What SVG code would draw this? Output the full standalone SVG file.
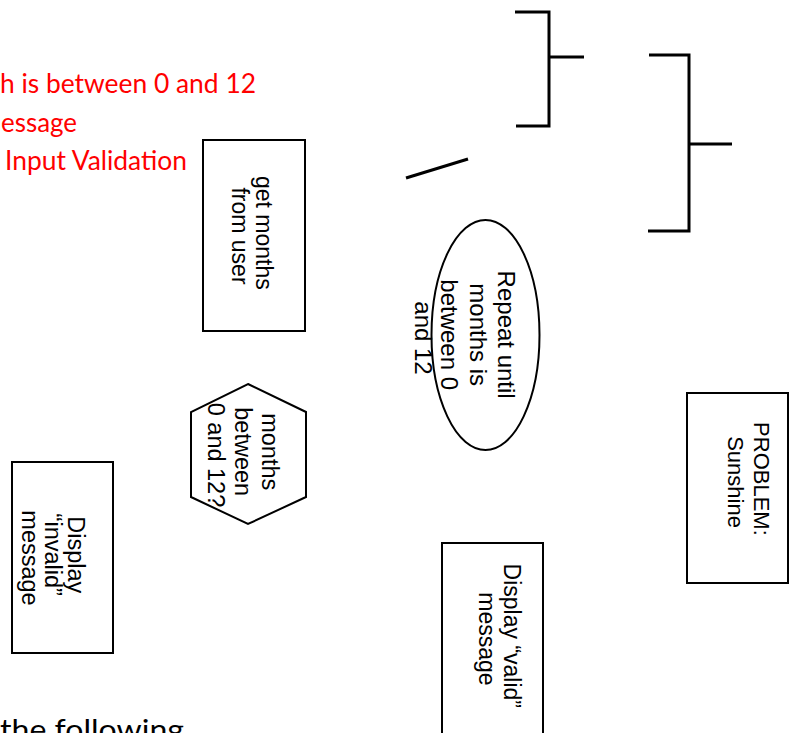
<svg xmlns="http://www.w3.org/2000/svg" width="797" height="733" viewBox="0 0 797 733">
<style>
  .shape { fill: #ffffff; stroke: #000000; stroke-width: 2; }
  .lbl { font-family: "Liberation Sans", Arial, sans-serif; fill: #000000; text-anchor: middle; }
  .red { font-family: Lato, "Liberation Sans", sans-serif; font-size: 27px; fill: #ff0000; }
  .blk { font-family: Lato, "Liberation Sans", sans-serif; font-size: 29px; fill: #000000; }
  .br { fill: none; stroke: #000000; stroke-width: 3; }
</style>
<rect width="797" height="733" fill="#ffffff"/>

<g id="notes">
  <text class="red" x="0" y="93" textLength="256" lengthAdjust="spacingAndGlyphs">h is between 0 and 12</text>
  <text class="red" x="1" y="131.5" textLength="76" lengthAdjust="spacingAndGlyphs">essage</text>
  <text class="red" x="5" y="170" textLength="182" lengthAdjust="spacingAndGlyphs">Input Validation</text>
  <text class="blk" x="0" y="740" textLength="184" lengthAdjust="spacingAndGlyphs">the following</text>
</g>

<g id="connectors">
  <polyline class="br" points="515,12 549,12 549,126 516,126"/>
  <line class="br" x1="549" y1="57" x2="584" y2="57"/>
  <polyline class="br" points="649,55 689,55 689,231 648,231"/>
  <line class="br" x1="689" y1="144" x2="732" y2="144"/>
  <line class="br" x1="406" y1="178" x2="468" y2="159"/>
</g>

<g id="get-months">
  <rect class="shape" x="203" y="140" width="102" height="191"/>
  <text class="lbl" font-size="23" transform="rotate(90)">
    <tspan x="236" y="-256">get months</tspan>
    <tspan x="236" y="-232">from user</tspan>
  </text>
</g>

<g id="months-between">
  <polygon class="shape" points="248,384 306,412 306,497 248,524 191,497 191,412"/>
  <text class="lbl" font-size="23.5" transform="rotate(90)">
    <tspan x="455" y="-261.5">months</tspan>
    <tspan x="455" y="-235">between</tspan>
    <tspan x="455" y="-208">0 and 12?</tspan>
  </text>
</g>

<g id="display-invalid">
  <rect class="shape" x="12" y="462" width="101" height="191"/>
  <text class="lbl" font-size="23.5" transform="rotate(90)">
    <tspan x="558" y="-68">Display</tspan>
    <tspan x="558" y="-45">“invalid”</tspan>
    <tspan x="558" y="-21.5">message</tspan>
  </text>
</g>

<g id="repeat-until">
  <ellipse class="shape" cx="485.5" cy="335" rx="54" ry="115"/>
  <text class="lbl" font-size="24" transform="rotate(90)">
    <tspan x="338" y="-498">Repeat until</tspan>
    <tspan x="338" y="-469.5">months is</tspan>
    <tspan x="338" y="-441">between 0</tspan>
    <tspan x="338" y="-414.5">and 12</tspan>
  </text>
</g>

<g id="display-valid">
  <rect class="shape" x="442" y="543" width="101" height="195"/>
  <text class="lbl" font-size="23" transform="rotate(90)">
    <tspan x="639" y="-504">Display “valid”</tspan>
    <tspan x="639" y="-479">message</tspan>
  </text>
</g>

<g id="problem">
  <rect class="shape" x="687" y="393" width="101" height="190"/>
  <text class="lbl" font-size="22" transform="rotate(90)">
    <tspan x="482" y="-754">PROBLEM:</tspan>
    <tspan x="482" y="-727.5">Sunshine</tspan>
  </text>
</g>
</svg>
